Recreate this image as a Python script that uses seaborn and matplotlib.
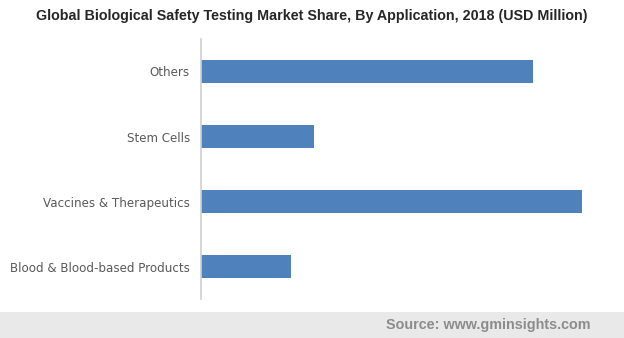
import matplotlib
matplotlib.use("Agg")
import matplotlib.pyplot as plt
import seaborn as sns
import pandas as pd
from matplotlib.patches import Rectangle

categories = ["Others", "Stem Cells", "Vaccines & Therapeutics", "Blood & Blood-based Products"]
values = [332, 113, 381, 90]

sns.set_theme(style="white")
plt.rcParams['font.family'] = ['DejaVu Sans']

df = pd.DataFrame({"Application": categories, "Value": values})

fig = plt.figure(figsize=(6.24, 3.38), dpi=100)
ax = fig.add_axes([201/624, (338-299)/338, (610-201)/624, 260/338])

sns.barplot(data=df, y="Application", x="Value", orient="h", color="#4f81bd",
            width=0.34, saturation=1, linewidth=0, ax=ax, order=categories)

ax.set_xlim(0, 409)
ax.set_ylim(3.5, -0.5)
ax.set_xlabel("")
ax.set_ylabel("")
ax.set_xticks([])
for s in ["top", "right", "bottom"]:
    ax.spines[s].set_visible(False)
ax.spines["left"].set_color("#d0d0d0")
ax.spines["left"].set_linewidth(1.2)
ax.tick_params(axis="y", length=0, pad=8, labelsize=8.6, labelcolor="#595959")

fig.text(0.5, 1 - 16/338, "Global Biological Safety Testing Market Share, By Application, 2018 (USD Million)",
         ha="center", va="center", fontsize=10.3, fontweight="bold", color="#262626",
         family="Liberation Sans")

fig.patches.append(Rectangle((0, 0), 1, 26/338, transform=fig.transFigure,
                             facecolor="#e9e9e9", edgecolor="none", zorder=0))
fig.text(590/624, 13/338, "Source: www.gminsights.com", ha="right", va="center",
         fontsize=10.4, fontweight="bold", color="#8c8c8c", family="Liberation Sans")

fig.savefig("out.png", dpi=100)
